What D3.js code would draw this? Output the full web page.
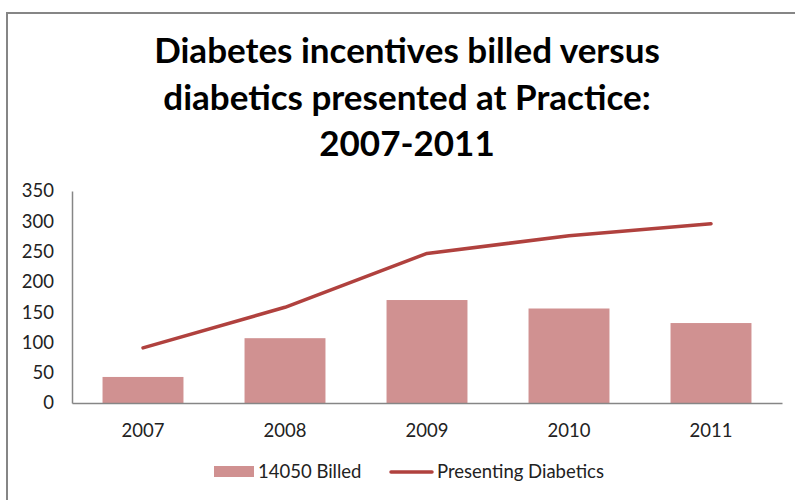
<!DOCTYPE html>
<html><head><meta charset="utf-8">
<script src="https://cdn.jsdelivr.net/npm/d3@7"></script>
<style>body{margin:0;background:#fff}svg{display:block}</style>
</head><body>
<script>
const categories = ["2007","2008","2009","2010","2011"];
const billed = [43, 107, 170, 156, 132];
const presenting = [91, 158, 247, 276, 296];
const yTicks = [0,50,100,150,200,250,300,350];
const titleLines = ["Diabetes incentives billed versus","diabetics presented at Practice:","2007-2011"];
const seriesNames = ["14050 Billed","Presenting Diabetics"];

const W=795,H=500;
const svg=d3.select("body").append("svg").attr("width",W).attr("height",H);
svg.append("rect").attr("x",7).attr("y",13).attr("width",W).attr("height",H).attr("fill","#fff").attr("stroke","#868686").attr("stroke-width",2);

const font="Lato, 'Open Sans', sans-serif";
const t=svg.append("g");
titleLines.forEach((l,i)=>{
  t.append("text").attr("x",407).attr("y",63+i*46.5).attr("text-anchor","middle")
   .attr("font-family",font).attr("font-weight","bold").attr("font-size",35).attr("fill","#000").text(l);
});

const x=d3.scaleBand().domain(categories).range([72,782]).paddingInner(0.43).paddingOuter(0.215);
const y=d3.scaleLinear().domain([0,350]).range([403,191]);

const gy=svg.append("g").attr("transform","translate(72,0)")
  .call(d3.axisLeft(y).tickValues(yTicks).tickSize(0).tickPadding(18));
gy.select(".domain").attr("stroke","#868686").attr("stroke-width",1.5);
gy.selectAll("text").attr("font-family",font).attr("font-size",18.5).attr("fill","#222");

svg.append("g").selectAll("rect").data(billed).join("rect")
  .attr("x",(d,i)=>x(categories[i])).attr("width",x.bandwidth())
  .attr("y",d=>y(d)).attr("height",d=>y(0)-y(d)).attr("fill","#D09191");

const gx=svg.append("g").attr("transform","translate(0,403)")
  .call(d3.axisBottom(x).tickSize(0).tickPadding(21));
gx.select(".domain").attr("stroke","#868686").attr("stroke-width",1.5);
gx.selectAll("text").attr("font-family",font).attr("font-size",18.5).attr("fill","#222");

const line=d3.line().x((d,i)=>x(categories[i])+x.bandwidth()/2).y(d=>y(d));
svg.append("path").datum(presenting).attr("d",line).attr("fill","none")
  .attr("stroke","#B0413E").attr("stroke-width",3.5).attr("stroke-linecap","round").attr("stroke-linejoin","round");

const lg=svg.append("g");
lg.append("rect").attr("x",214).attr("y",466).attr("width",40).attr("height",11).attr("fill","#D09191");
lg.append("text").attr("x",258).attr("y",478).attr("font-family",font).attr("font-size",18.5).attr("fill","#222").text(seriesNames[0]);
lg.append("line").attr("x1",391).attr("x2",432).attr("y1",472).attr("y2",472).attr("stroke","#B0413E").attr("stroke-width",3.5).attr("stroke-linecap","round");
lg.append("text").attr("x",437).attr("y",478).attr("font-family",font).attr("font-size",18.5).attr("fill","#222").text(seriesNames[1]);
</script>
</body></html>
